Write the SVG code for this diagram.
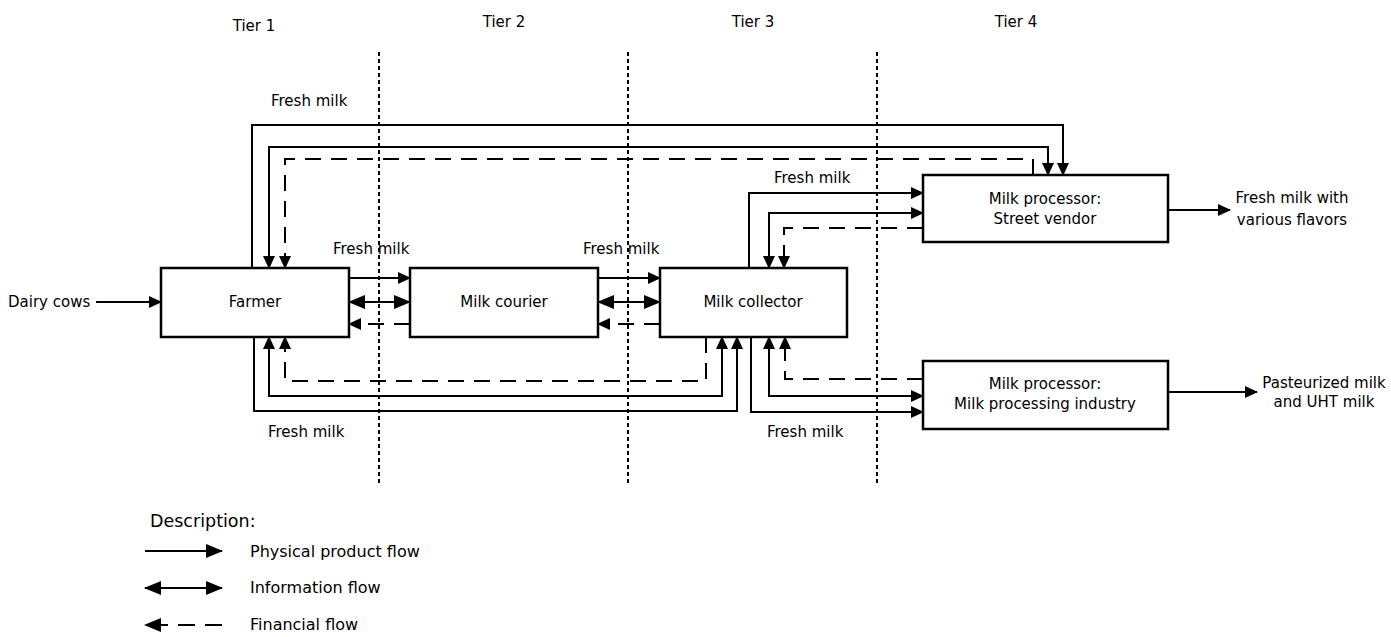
<svg xmlns="http://www.w3.org/2000/svg" width="1391" height="637" viewBox="0 0 1391 637">
<style>
text{font-family:"DejaVu Sans","Liberation Sans",sans-serif;font-size:15px;fill:#000}
.c{text-anchor:middle}
.lg{font-size:16px}
.hd{font-size:17.5px}
.box{fill:#fff;stroke:#000;stroke-width:2.5}
.ln{fill:none;stroke:#000;stroke-width:2}
.dash{fill:none;stroke:#000;stroke-width:2;stroke-dasharray:16,10}
.tier{fill:none;stroke:#000;stroke-width:2;stroke-dasharray:4,3}
</style>
<defs>
<marker id="a" markerUnits="userSpaceOnUse" markerWidth="14" markerHeight="12" refX="12" refY="6" orient="auto-start-reverse"><path d="M0,0 L13,6 L0,12 z" fill="#000"/></marker>
<marker id="b" markerUnits="userSpaceOnUse" markerWidth="18" markerHeight="14" refX="16" refY="7" orient="auto-start-reverse"><path d="M0,0 L17,7 L0,14 z" fill="#000"/></marker>
</defs>

<g id="tiers">
<line class="tier" x1="379" y1="52" x2="379" y2="486"/>
<line class="tier" x1="628" y1="52" x2="628" y2="486"/>
<line class="tier" x1="877" y1="52" x2="877" y2="486"/>
<text class="c" x="254" y="31">Tier 1</text>
<text class="c" x="504" y="27">Tier 2</text>
<text class="c" x="753" y="27">Tier 3</text>
<text class="c" x="1016" y="27">Tier 4</text>
</g>

<g id="connectors">
<line class="ln" x1="96" y1="302" x2="161" y2="302" marker-end="url(#a)"/>
<line class="ln" x1="349" y1="278" x2="410" y2="278" marker-end="url(#a)"/>
<line class="ln" x1="349" y1="302" x2="410" y2="302" marker-start="url(#b)" marker-end="url(#b)"/>
<path class="dash" d="M410,324 L349,324" marker-end="url(#a)"/>
<line class="ln" x1="598" y1="278" x2="660" y2="278" marker-end="url(#a)"/>
<line class="ln" x1="598" y1="302" x2="660" y2="302" marker-start="url(#b)" marker-end="url(#b)"/>
<path class="dash" d="M660,324 L598,324" marker-end="url(#a)"/>
<path class="ln" d="M252,268 L252,125 L1063,125 L1063,175" marker-end="url(#a)"/>
<path class="ln" d="M269,268 L269,147 L1048,147 L1048,175" marker-start="url(#a)" marker-end="url(#a)"/>
<path class="dash" d="M1033,175 L1033,159 L285,159 L285,268" marker-end="url(#a)"/>
<path class="ln" d="M749,268 L749,193 L923,193" marker-end="url(#a)"/>
<path class="ln" d="M769,268 L769,213 L923,213" marker-start="url(#a)" marker-end="url(#a)"/>
<path class="dash" d="M923,228 L784,228 L784,268" marker-end="url(#a)"/>
<path class="ln" d="M254,337 L254,411 L737,411 L737,337" marker-end="url(#a)"/>
<path class="ln" d="M269,337 L269,396 L722,396 L722,337" marker-start="url(#a)" marker-end="url(#a)"/>
<path class="dash" d="M706,337 L706,381 L285,381 L285,337" marker-end="url(#a)"/>
<path class="ln" d="M751,337 L751,412 L923,412" marker-end="url(#a)"/>
<path class="ln" d="M769,337 L769,396 L923,396" marker-start="url(#a)" marker-end="url(#a)"/>
<path class="dash" d="M923,379 L785,379 L785,337" marker-end="url(#a)"/>
<line class="ln" x1="1168" y1="210" x2="1230" y2="210" marker-end="url(#a)"/>
<line class="ln" x1="1168" y1="392" x2="1257" y2="392" marker-end="url(#a)"/>
</g>

<g id="labels">
<text x="8" y="307">Dairy cows</text>
<text x="271" y="106">Fresh milk</text>
<text x="333" y="254">Fresh milk</text>
<text x="583" y="254">Fresh milk</text>
<text x="774" y="183">Fresh milk</text>
<text x="268" y="437">Fresh milk</text>
<text x="767" y="437">Fresh milk</text>
<text class="c" x="1292" y="203">Fresh milk with</text>
<text class="c" x="1292" y="225">various flavors</text>
<text class="c" x="1324" y="388">Pasteurized milk</text>
<text class="c" x="1324" y="407">and UHT milk</text>
</g>

<g id="farmer"><rect class="box" x="161" y="268" width="188" height="69"/><text class="c" x="255" y="307">Farmer</text></g>
<g id="courier"><rect class="box" x="410" y="268" width="188" height="69"/><text class="c" x="504" y="307">Milk courier</text></g>
<g id="collector"><rect class="box" x="660" y="268" width="187" height="69"/><text class="c" x="753" y="307">Milk collector</text></g>
<g id="street-vendor"><rect class="box" x="923" y="175" width="245" height="67"/><text class="c" x="1045" y="204">Milk processor:</text><text class="c" x="1045" y="224">Street vendor</text></g>
<g id="industry"><rect class="box" x="923" y="361" width="245" height="68"/><text class="c" x="1045" y="389">Milk processor:</text><text class="c" x="1045" y="409">Milk processing industry</text></g>

<g id="legend">
<text class="hd" x="150" y="527">Description:</text>
<line class="ln" x1="145" y1="551" x2="222" y2="551" marker-end="url(#b)"/>
<line class="ln" x1="145" y1="588" x2="222" y2="588" marker-start="url(#b)" marker-end="url(#b)"/>
<path class="ln" d="M222,625 L145,625" style="stroke-dasharray:17,10" marker-end="url(#b)"/>
<text class="lg" x="250" y="557">Physical product flow</text>
<text class="lg" x="250" y="593">Information flow</text>
<text class="lg" x="250" y="630">Financial flow</text>
</g>
</svg>
